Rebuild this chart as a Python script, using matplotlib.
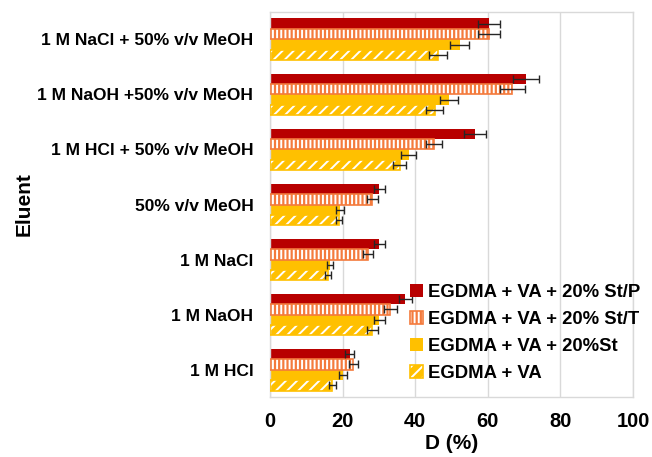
import numpy as np
import matplotlib
matplotlib.use("Agg")
from matplotlib import pyplot as plt
from matplotlib.patches import Patch
from matplotlib.legend_handler import HandlerTuple

plt.rcParams['font.family'] = ['Liberation Sans', 'DejaVu Sans']
plt.rcParams['font.weight'] = 'bold'

eluents = ['1 M NaCl + 50% v/v MeOH', '1 M NaOH +50% v/v MeOH', '1 M HCl + 50% v/v MeOH',
           '50% v/v MeOH', '1 M NaCl', '1 M NaOH', '1 M HCl']
series = ['EGDMA + VA + 20% St/P', 'EGDMA + VA + 20% St/T', 'EGDMA + VA + 20%St', 'EGDMA + VA']

st_p = [60.4, 70.5, 56.4, 30.1, 30.1, 37.3, 22.0]
st_p_err = [3.0, 3.6, 3.0, 1.5, 1.5, 1.8, 1.2]
st_t = [60.4, 66.7, 45.2, 28.2, 27.1, 33.1, 23.0]
st_t_err = [3.0, 3.4, 2.3, 1.5, 1.4, 1.8, 1.2]
st = [52.3, 49.4, 38.2, 19.3, 16.5, 30.1, 20.0]
st_err = [2.6, 2.5, 2.0, 1.1, 0.9, 1.5, 1.1]
va = [46.3, 45.4, 35.7, 19.1, 16.0, 28.2, 17.2]
va_err = [2.4, 2.3, 1.9, 0.8, 0.8, 1.5, 0.9]

values = [st_p, st_t, st, va]
errors = [st_p_err, st_t_err, st_err, va_err]
faces = ['#B80000', '#F47A3C', '#FFC000', '#FFC000']
hatches = [None, '||||', None, '///']
borders = ['#B80000', '#F47A3C', '#FFC000', '#FFC000']

fig = plt.figure(figsize=(6.52, 4.57), dpi=100)
ax = fig.add_axes([0.414, 0.131, 0.557, 0.843])

n = len(eluents)
pos = np.arange(n)[::-1]
h = 0.19
offsets = [1.5 * h, 0.5 * h, -0.5 * h, -1.5 * h]

plt.rcParams['hatch.linewidth'] = 1.4
for vals, errs, fc, hc, bc, off in zip(values, errors, faces, hatches, borders, offsets):
    y = pos + off
    if hc:
        ax.barh(y, vals, height=h, color=fc, edgecolor='white', hatch=hc, linewidth=0, zorder=2)
        ax.barh(y, vals, height=h, fill=False, edgecolor=bc, linewidth=1.2, zorder=3)
    else:
        ax.barh(y, vals, height=h, color=fc, edgecolor='none', zorder=2)
    ax.errorbar(vals, y, xerr=errs, fmt='none', ecolor='#262626', elinewidth=1,
                capsize=3, capthick=1, zorder=4)

ax.set_xlim(0, 100)
ax.set_ylim(-0.5, n - 0.5)
ax.set_xticks(np.arange(0, 101, 20))
ax.set_yticks(pos)
ax.set_yticklabels(eluents, fontsize=12.5, fontweight='bold')
ax.tick_params(axis='x', labelsize=14.5, length=0, pad=11)
ax.tick_params(axis='y', length=0, pad=12)
for lbl in ax.get_xticklabels():
    lbl.set_fontweight('bold')
ax.grid(axis='x', color='#D9D9D9', linewidth=1, zorder=0)
ax.set_axisbelow(True)
for sp in ax.spines.values():
    sp.set_color('#D9D9D9')
    sp.set_linewidth(1)

ax.set_xlabel('D (%)', fontsize=15, fontweight='bold', labelpad=2)
ax.set_ylabel('Eluent', fontsize=15, fontweight='bold')
ax.yaxis.set_label_coords(-0.65, 0.5)

handles = []
for fc, hc, bc in zip(faces, hatches, borders):
    if hc:
        handles.append((Patch(facecolor=fc, edgecolor='white', hatch=hc, linewidth=0),
                        Patch(fill=False, edgecolor=bc, linewidth=1.2)))
    else:
        handles.append(Patch(facecolor=fc, edgecolor='none'))
leg = ax.legend(handles, series, loc='lower left', bbox_to_anchor=(0.345, 0.0), frameon=False,
                handler_map={tuple: HandlerTuple(ndivide=1)},
                handlelength=0.7, handleheight=0.7, handletextpad=0.25,
                labelspacing=0.55, borderaxespad=0.4, prop={'weight': 'bold', 'size': 13.3})

fig.savefig('out.png', dpi=100)
